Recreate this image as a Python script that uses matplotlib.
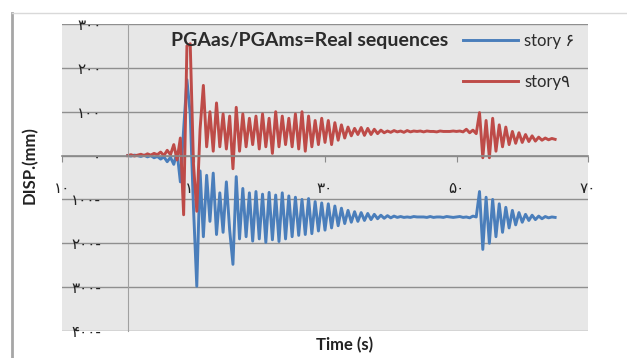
import numpy as np
import matplotlib.pyplot as plt
from matplotlib.lines import Line2D

# time axis (s), one sample every 0.5 s
time = np.arange(0, 65.01, 0.5)

# story 9 displacement (mm)
story9 = [0, 2, -1, 1, 3, 0, 4, 1, 5, 2,
          8, 0, 12, 2, 25, -10, 40, -135, 250, 255,
          -20, -127, 60, 160, 20, 100, 10, 120, 20, 95,
          15, 90, -30, 110, 10, 95, 20, 85, 25, 90,
          15, 95, 20, 85, 5, 100, 20, 90, 25, 85,
          20, 95, 15, 100, 10, 90, 20, 80, 25, 85,
          30, 80, 25, 75, 35, 70, 40, 65, 45, 62,
          48, 64, 46, 62, 48, 60, 50, 58, 52, 56,
          53, 57, 54, 56, 53, 57, 54, 56, 55, 56,
          54, 56, 55, 55, 54, 56, 55, 55, 55, 56,
          55, 56, 54, 60, 52, 58, 50, 98, -5, 80,
          -5, 85, 10, 70, 20, 65, 25, 55, 28, 52,
          30, 48, 32, 45, 33, 42, 35, 40, 36, 39,
          37]

# story 6 displacement (mm)
story6 = [0, -1, 1, 0, -2, 1, -3, 0, -5, -2,
          -8, -3, -14, -4, -20, 8, -60, 60, 173, 95,
          -120, -298, -35, -185, -45, -150, -40, -180, -85, -175,
          -60, -170, -248, -48, -190, -75, -185, -85, -195, -82,
          -190, -88, -198, -84, -192, -90, -196, -85, -190, -92,
          -185, -95, -182, -100, -180, -98, -178, -105, -172, -108,
          -170, -110, -165, -115, -160, -120, -155, -125, -152, -128,
          -150, -130, -148, -132, -146, -134, -144, -136, -143, -137,
          -142, -138, -141, -139, -141, -140, -141, -139, -140, -140,
          -140, -141, -139, -141, -140, -140, -141, -139, -140, -141,
          -140, -139, -141, -140, -142, -138, -140, -82, -214, -95,
          -200, -100, -185, -110, -175, -118, -165, -125, -158, -130,
          -152, -134, -148, -136, -146, -138, -144, -139, -142, -140,
          -141]

y_ticks = [-400, -300, -200, -100, 0, 100, 200, 300]
y_labels = ['۴۰۰-', '۳۰۰-', '۲۰۰-', '۱۰۰-', '۰', '۱۰۰', '۲۰۰', '۳۰۰']
x_ticks = [-10, 10, 30, 50, 70]
x_labels = ['۱۰', '۱۰', '۳۰', '۵۰', '۷۰']

fig = plt.figure(figsize=(6.27, 3.58), dpi=100)
ax = fig.add_axes([62/627, 1 - 331/358, 526/627, 307/358])
ax.set_facecolor('#e7e7e7')

ax.plot(time, story6, color='#4a7ebb', lw=2.1, label='story ۶')
ax.plot(time, story9, color='#be4b48', lw=2.1, label='story۹')

ax.set_xlim(-10, 70)
ax.set_ylim(-400, 300)

ax.spines['top'].set_visible(False)
ax.spines['right'].set_visible(False)
ax.spines['left'].set_position(('data', 0))
ax.spines['left'].set_color('#a0a0a0')
ax.spines['bottom'].set_position(('data', 0))
ax.spines['bottom'].set_color('#8a8a8a')
ax.spines['bottom'].set_linewidth(1.2)

ax.set_yticks(y_ticks, labels=y_labels, family=['DejaVu Sans'], fontsize=11, color='#222222')
ax.tick_params(axis='y', length=0, pad=19)
ax.set_xticks(x_ticks, labels=x_labels, family=['DejaVu Sans'], fontsize=11, color='#222222')
ax.tick_params(axis='x', length=4, direction='out', color='#8a8a8a', pad=14)
ax.yaxis.grid(True, color='#8f8f8f', lw=1)
ax.set_axisbelow(True)

ax.text(0.47, 0.945, 'PGAas/PGAms=Real sequences', transform=ax.transAxes,
        ha='center', va='center', fontsize=14, fontweight='bold',
        family=['Lato'], color='#2b2b2b')

ax.legend(loc='upper left', bbox_to_anchor=(0.733, 1.02), frameon=False,
          handlelength=3.3, handletextpad=0.4, labelspacing=1.5,
          prop={'family': ['Lato', 'DejaVu Sans'], 'size': 12},
          labelcolor='#2b2b2b')

fig.text(30/627, 1 - 165/358, 'DISP.(mm)', rotation=90, ha='center', va='center',
         fontsize=12, fontweight='bold', family=['Lato'], color='#222222')
fig.text(345/627, 1 - 345/358, 'Time (s)', ha='center', va='center',
         fontsize=12, fontweight='bold', family=['Lato'], color='#222222')

# outer chart border
fig.add_artist(Line2D([12/627, 12/627], [0, 1 - 13/358], transform=fig.transFigure,
                      color='#a6a6a6', lw=2))
fig.add_artist(Line2D([12/627, 1], [1 - 13/358, 1 - 13/358], transform=fig.transFigure,
                      color='#d9d9d9', lw=1))

fig.savefig('out.png', dpi=100)
